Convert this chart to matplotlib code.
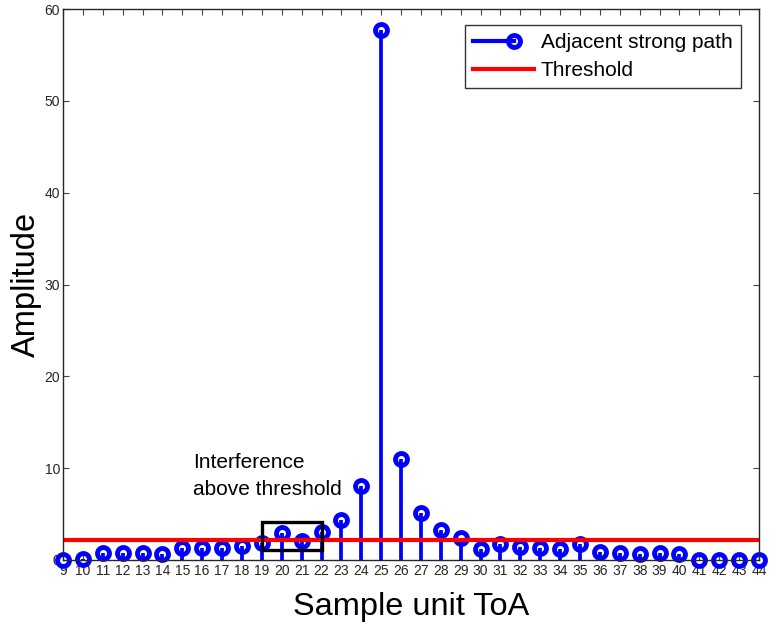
import matplotlib
matplotlib.use("Agg")
import matplotlib.pyplot as plt
from matplotlib.patches import Rectangle
from matplotlib.lines import Line2D
from matplotlib.legend_handler import HandlerLine2D

plt.rcParams['font.family'] = ['Liberation Sans', 'DejaVu Sans']

samples = list(range(9, 45))
amplitude = [0.0, 0.1, 0.73, 0.75, 0.75, 0.7, 1.27, 1.3, 1.25, 1.5, 1.8, 2.9, 2.1, 3.0,
             4.35, 8.1, 57.7, 11.0, 5.1, 3.27, 2.36, 1.16, 1.74, 1.45, 1.27, 1.16, 1.74,
             0.9, 0.8, 0.65, 0.73, 0.65, 0.05, 0.05, 0.05, 0.05]
threshold = 2.2
box_x = [19, 22]
box_y = [1.1, 4.1]

BLUE = '#0000ff'
RED = '#ff0000'
MS, MEW = 8.6, 3.5


class StemHandler(HandlerLine2D):
    def create_artists(self, legend, orig_handle, xdescent, ydescent, width, height,
                       fontsize, trans):
        y = height / 2 - ydescent
        line = Line2D([-xdescent, -xdescent + width * 0.68], [y, y], color=BLUE,
                      linewidth=3)
        mk = Line2D([-xdescent + width * 0.68], [y], color=BLUE, marker='o',
                    markersize=MS, markeredgewidth=MEW, markerfacecolor='none',
                    linestyle='none')
        line.set_transform(trans)
        mk.set_transform(trans)
        return [line, mk]


fig = plt.figure(figsize=(7.69, 6.27), dpi=100)
ax = fig.add_axes([0.0819, 0.1069, 0.9051, 0.8787])

ml, sl, bl = ax.stem(samples, amplitude, basefmt=' ')
plt.setp(sl, color=BLUE, linewidth=2.7)
plt.setp(ml, color=BLUE, marker='o', markersize=MS, markerfacecolor='none',
         markeredgewidth=MEW)
ax.axhline(threshold, color=RED, linewidth=3)

ax.add_patch(Rectangle((box_x[0], box_y[0]), box_x[1] - box_x[0], box_y[1] - box_y[0],
                       fill=False, edgecolor='black', linewidth=2.4, zorder=5))
ax.text(15.55, 6.6, 'Interference\nabove threshold', fontsize=15, ha='left', va='bottom',
        linespacing=1.55)

ax.set_xlim(9, 44)
ax.set_ylim(0, 60)
ax.set_xticks(samples)
ax.set_yticks(range(0, 61, 10))
ax.tick_params(axis='x', labelsize=10, direction='in', top=True, length=4.5, pad=3,
               labelcolor='#262626', color='#444444')
ax.tick_params(axis='y', labelsize=10, direction='in', right=True, length=4.5, pad=2,
               labelcolor='#262626', color='#444444')
for s in ax.spines.values():
    s.set_linewidth(1.0)
    s.set_color('#262626')
    s.set_zorder(10)
for a in [ml, sl]:
    a.set_clip_on(False)

ax.set_xlabel('Sample unit ToA', fontsize=23.4, labelpad=10)
ax.set_ylabel('Amplitude', fontsize=23.5, labelpad=2)

stem_h = Line2D([], [], color=BLUE)
thr_h = Line2D([], [], color=RED, linewidth=3)
leg = ax.legend([stem_h, thr_h], ['Adjacent strong path', 'Threshold'],
                handler_map={stem_h: StemHandler()},
                loc='upper right', fontsize=15, frameon=True, fancybox=False,
                edgecolor='#333333', bbox_to_anchor=(0.9735, 0.9705),
                borderaxespad=0, handlelength=2.9, handletextpad=0.35,
                labelspacing=0.44, borderpad=0.38, framealpha=1)
leg.get_frame().set_linewidth(1.0)
leg.set_zorder(11)

fig.savefig('out.png', dpi=100)
